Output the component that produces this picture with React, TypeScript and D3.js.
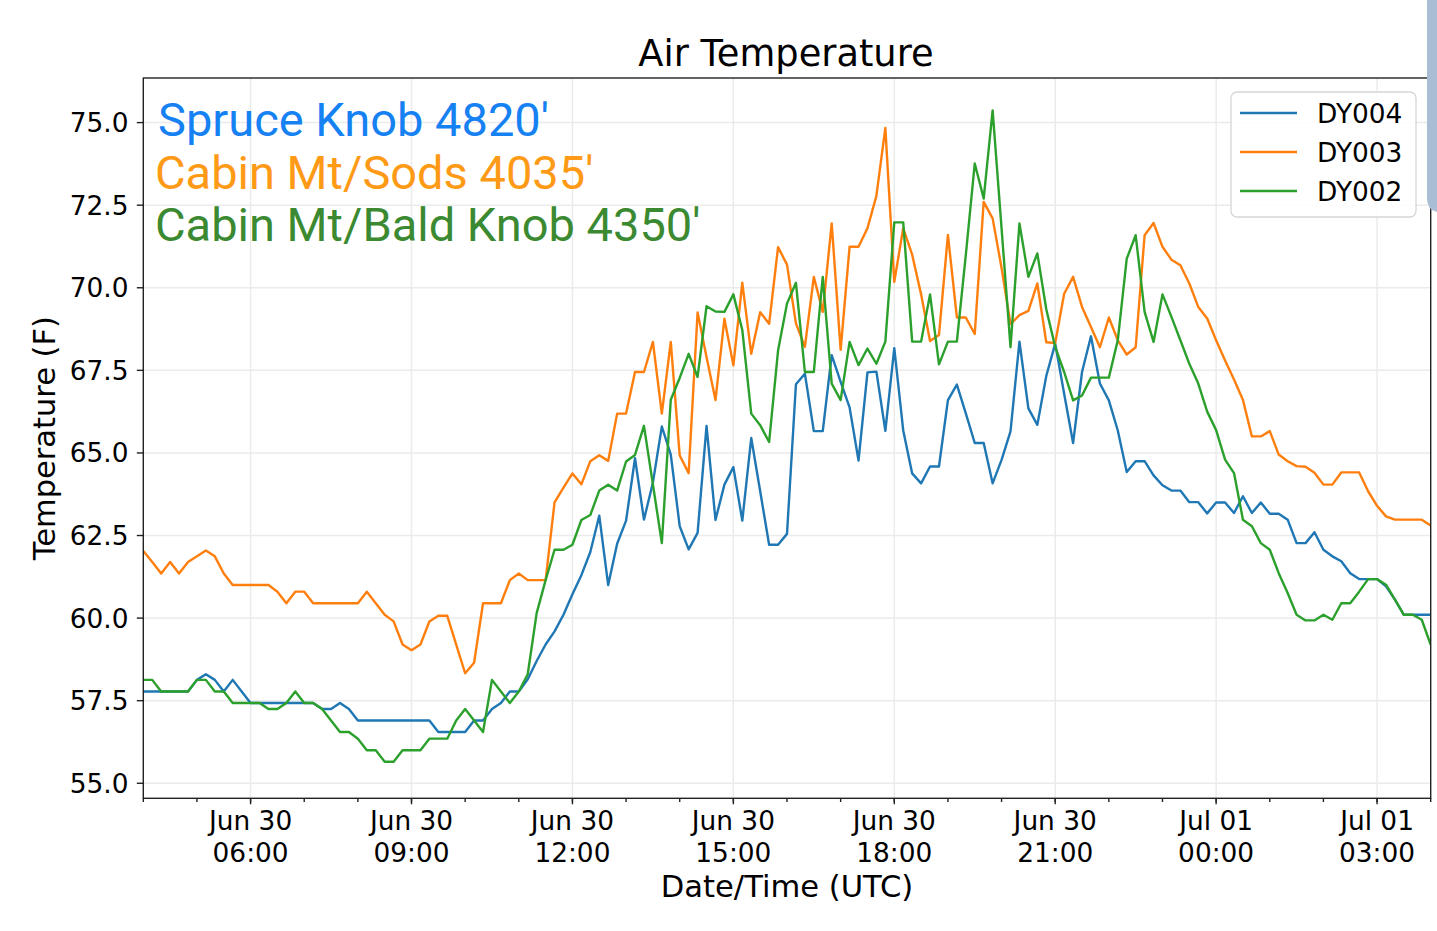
import React from "react";
import * as d3 from "d3";

// ---- data (10-minute samples, Jun 30 04:00 UTC -> Jul 01 04:00 UTC) ----
const START_UTC = "2019-06-30T04:00:00Z";
const STEP_MINUTES = 10;

const dy004: number[] = [
  57.78, 57.78, 57.78, 57.78, 57.78, 57.78, 58.13, 58.3, 58.13, 57.78,
  58.13, 57.78, 57.43, 57.43, 57.43, 57.43, 57.43, 57.43, 57.43, 57.43,
  57.25, 57.25, 57.43, 57.25, 56.9, 56.9, 56.9, 56.9, 56.9, 56.9,
  56.9, 56.9, 56.9, 56.55, 56.55, 56.55, 56.55, 56.9, 56.9, 57.25,
  57.43, 57.78, 57.78, 58.15, 58.7, 59.2, 59.6, 60.1, 60.72, 61.3,
  62.0, 63.1, 61.0, 62.25, 62.95, 64.84, 62.98, 64.1, 65.8, 64.95,
  62.78, 62.08, 62.58, 65.82, 62.97, 64.04, 64.57, 62.95, 65.45, 63.84,
  62.22, 62.22, 62.55, 67.08, 67.4, 65.66, 65.66, 67.96, 67.15, 66.38,
  64.77, 67.44, 67.46, 65.67, 68.17, 65.68, 64.38, 64.08, 64.59, 64.59,
  66.6, 67.07, 66.2, 65.3, 65.3, 64.08, 64.79, 65.65, 68.37, 66.35,
  65.85, 67.33, 68.31, 66.79, 65.3, 67.45, 68.53, 67.1, 66.59, 65.68,
  64.42, 64.75, 64.75, 64.32, 64.02, 63.86, 63.86, 63.51, 63.51, 63.17,
  63.5, 63.5, 63.18, 63.69, 63.18, 63.5, 63.16, 63.16, 62.98, 62.27,
  62.27, 62.6, 62.07, 61.87, 61.72, 61.36, 61.18, 61.18, 61.18, 60.96,
  60.56, 60.1, 60.1, 60.1, 60.1,
];

const dy003: number[] = [
  62.03, 61.7, 61.35, 61.7, 61.35, 61.7, 61.87, 62.05, 61.87, 61.35,
  61.0, 61.0, 61.0, 61.0, 61.0, 60.8, 60.45, 60.8, 60.8, 60.45,
  60.45, 60.45, 60.45, 60.45, 60.45, 60.8, 60.45, 60.1, 59.9, 59.2,
  59.03, 59.2, 59.9, 60.07, 60.07, 59.2, 58.33, 58.65, 60.45, 60.45,
  60.45, 61.15, 61.35, 61.15, 61.15, 61.15, 63.5, 63.95, 64.38, 64.05,
  64.75, 64.93, 64.76, 66.19, 66.19, 67.45, 67.45, 68.36, 66.19, 68.36,
  64.92, 64.39, 69.25, 67.9, 66.6, 69.06, 67.65, 70.15, 68.0, 69.26,
  68.91, 71.23, 70.7, 68.92, 68.21, 70.33, 69.27, 71.95, 68.12, 71.24,
  71.24, 71.8, 72.78, 74.84, 70.18, 71.8, 71.0, 69.8, 68.39, 68.57,
  71.6, 69.1, 69.1, 68.6, 72.6, 72.1, 70.6, 68.9, 69.17, 69.3,
  70.13, 68.35, 68.33, 69.82, 70.33, 69.42, 68.81, 68.2, 69.1, 68.41,
  67.98, 68.2, 71.59, 71.96, 71.24, 70.85, 70.68, 70.13, 69.42, 69.07,
  68.41, 67.8, 67.22, 66.6, 65.5, 65.5, 65.66, 64.95, 64.75, 64.6,
  64.58, 64.4, 64.04, 64.04, 64.41, 64.41, 64.41, 63.84, 63.4, 63.08,
  62.98, 62.98, 62.98, 62.98, 62.8,
];

const dy002: number[] = [
  58.13, 58.13, 57.78, 57.78, 57.78, 57.78, 58.13, 58.13, 57.78, 57.78,
  57.43, 57.43, 57.43, 57.43, 57.25, 57.25, 57.43, 57.78, 57.43, 57.43,
  57.25, 56.9, 56.55, 56.55, 56.35, 56.0, 56.0, 55.65, 55.65, 56.0,
  56.0, 56.0, 56.35, 56.35, 56.35, 56.9, 57.25, 56.9, 56.55, 58.13,
  57.78, 57.43, 57.78, 58.3, 60.15, 61.15, 62.07, 62.07, 62.22, 62.97,
  63.12, 63.86, 64.04, 63.86, 64.74, 64.94, 65.82, 64.05, 62.27, 66.61,
  67.27, 68.0, 67.3, 69.44, 69.28, 69.27, 69.8, 68.72, 66.19, 65.84,
  65.33, 68.1, 69.52, 70.15, 67.45, 67.45, 70.33, 67.1, 66.6, 68.36,
  67.66, 68.16, 67.7, 68.37, 71.98, 71.98, 68.37, 68.37, 69.8, 67.68,
  68.37, 68.37, 70.99, 73.76, 72.7, 75.37, 71.8, 68.2, 71.95, 70.33,
  71.04, 69.35, 68.21, 67.45, 66.59, 66.74, 67.28, 67.28, 67.28, 68.41,
  70.88, 71.59, 69.27, 68.36, 69.8, 69.12, 68.41, 67.7, 67.1, 66.25,
  65.69, 64.8, 64.39, 62.98, 62.78, 62.27, 62.07, 61.36, 60.76, 60.1,
  59.93, 59.93, 60.1, 59.95, 60.45, 60.45, 60.8, 61.18, 61.18, 61.01,
  60.56, 60.1, 60.1, 59.95, 59.19,
];

const seriesNames = ["DY004", "DY003", "DY002"];
const seriesColors = ["#1f77b4", "#ff7f0e", "#2ca02c"];
const stationLabels = ["Spruce Knob 4820'", "Cabin Mt/Sods 4035'", "Cabin Mt/Bald Knob 4350'"];
const stationColors = ["#1681f2", "#ff9a17", "#3b8a32"];
const yTicks = [55.0, 57.5, 60.0, 62.5, 65.0, 67.5, 70.0, 72.5, 75.0];

const W = 1437;
const H = 931;
const M = { left: 143.3, right: 1430.7, top: 78, bottom: 798.3 };
const FONT = "'DejaVu Sans', sans-serif";

export default function App() {
  const start = new Date(START_UTC);
  const end = d3.utcHour.offset(start, 24);
  const x = d3.scaleUtc().domain([start, end]).range([M.left, M.right]);
  const y = d3.scaleLinear().domain([54.545, 76.35]).range([M.bottom, M.top]);

  const series = [dy004, dy003, dy002];
  const line = d3
    .line<number>()
    .x((_, i) => x(d3.utcMinute.offset(start, i * STEP_MINUTES)))
    .y((d) => y(d));

  const majorTicks = d3.utcHour.every(3)!.range(d3.utcHour.offset(start, 1), end);
  const minorTicks = d3.utcHour.range(start, d3.utcHour.offset(end, 1));
  const fmtDay = d3.utcFormat("%b %d");
  const fmtTime = d3.utcFormat("%H:%M");

  const legend = { x: 1231, y: 92, w: 185, h: 125 };

  return (
    <div style={{ position: "absolute", left: 0, top: 0 }}>
      <svg width={W} height={H} viewBox={`0 0 ${W} ${H}`} style={{ display: "block", background: "#fff" }}>
        <defs>
          <clipPath id="plot">
            <rect x={M.left} y={M.top} width={M.right - M.left} height={M.bottom - M.top} />
          </clipPath>
        </defs>

        {/* grid */}
        <g stroke="#ebebeb" strokeWidth={1.5}>
          {majorTicks.map((t) => (
            <line key={"gx" + t.getTime()} x1={x(t)} x2={x(t)} y1={M.top} y2={M.bottom} />
          ))}
          {yTicks.map((v) => (
            <line key={"gy" + v} x1={M.left} x2={M.right} y1={y(v)} y2={y(v)} />
          ))}
        </g>

        {/* data lines */}
        <g clipPath="url(#plot)" fill="none" strokeWidth={2.4} strokeLinejoin="round">
          {series.map((s, k) => (
            <path key={seriesNames[k]} d={line(s) || ""} stroke={seriesColors[k]} />
          ))}
        </g>

        {/* station annotations */}
        <g fontFamily="Roboto, sans-serif" fontSize={47}>
          {stationLabels.map((lab, k) => (
            <text key={lab} x={k === 0 ? 158 : 155} y={136 + k * 52.5} fill={stationColors[k]}>
              {lab}
            </text>
          ))}
        </g>

        {/* legend */}
        <g>
          <rect x={legend.x} y={legend.y} width={legend.w} height={legend.h} rx={6} fill="#fff" fillOpacity={0.85} stroke="#d6d6d6" strokeWidth={1.3} />
          {seriesNames.map((n, k) => (
            <g key={n}>
              <line x1={1240} x2={1297} y1={113 + k * 39} y2={113 + k * 39} stroke={seriesColors[k]} strokeWidth={2.4} />
              <text x={1317} y={122.5 + k * 39} fontFamily={FONT} fontSize={26.4} fill="#000">
                {n}
              </text>
            </g>
          ))}
        </g>

        {/* spines */}
        <rect x={M.left} y={M.top} width={M.right - M.left} height={M.bottom - M.top} fill="none" stroke="#222" strokeWidth={1.4} />

        {/* ticks */}
        <g stroke="#222" strokeWidth={1.4}>
          {minorTicks.map((t) => (
            <line key={"mx" + t.getTime()} x1={x(t)} x2={x(t)} y1={M.bottom} y2={M.bottom + 3.7} />
          ))}
          {majorTicks.map((t) => (
            <line key={"Mx" + t.getTime()} x1={x(t)} x2={x(t)} y1={M.bottom} y2={M.bottom + 6} />
          ))}
          {yTicks.map((v) => (
            <line key={"ty" + v} x1={M.left - 6.5} x2={M.left} y1={y(v)} y2={y(v)} />
          ))}
        </g>
        <g fontFamily={FONT} fontSize={26.4} fill="#000" textAnchor="middle">
          {majorTicks.map((t) => (
            <text key={"lx" + t.getTime()} x={x(t)}>
              <tspan x={x(t)} y={830}>{fmtDay(t)}</tspan>
              <tspan x={x(t)} y={861.5}>{fmtTime(t)}</tspan>
            </text>
          ))}
        </g>
        <g fontFamily={FONT} fontSize={26.4} fill="#000" textAnchor="end">
          {yTicks.map((v) => (
            <text key={"ly" + v} x={128.5} y={y(v) + 9.5}>
              {d3.format(".1f")(v)}
            </text>
          ))}
        </g>

        {/* axis labels & title */}
        <text x={(M.left + M.right) / 2} y={897} textAnchor="middle" fontFamily={FONT} fontSize={30.6} fill="#000">
          Date/Time (UTC)
        </text>
        <text
          transform={`translate(55, ${(M.top + M.bottom) / 2}) rotate(-90)`}
          textAnchor="middle"
          fontFamily={FONT}
          fontSize={30.5}
          fill="#000"
        >
          Temperature (F)
        </text>
        <text x={(M.left + M.right) / 2 - 1} y={66} textAnchor="middle" fontFamily={FONT} fontSize={36.8} fill="#000">
          Air Temperature
        </text>

        {/* screenshot edge artifact at top-right */}
        <path d="M1427,0 H1437 V212 H1437 Q1427,210 1427,198 Z" fill="#a9bdd4" />
      </svg>
    </div>
  );
}
